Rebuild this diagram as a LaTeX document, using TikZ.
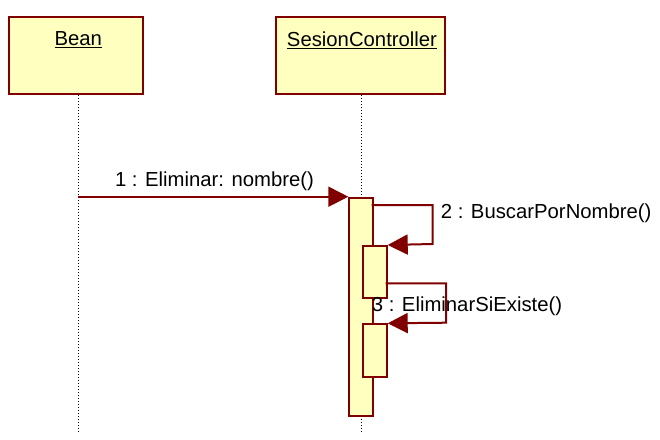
\documentclass[tikz,border=0pt]{standalone}
\usepackage{fontspec}
\setmainfont{Liberation Sans}
\usetikzlibrary{arrows.meta}
\definecolor{umlred}{HTML}{800000}
\definecolor{umlfill}{HTML}{FFFFC0}
\tikzset{
  objbox/.style={draw=umlred, fill=umlfill, line width=2pt, inner sep=0pt},
  actbox/.style={draw=umlred, fill=umlfill, line width=2pt, inner sep=0pt},
  lifeline/.style={draw=black, line width=1pt, dotted},
  msg/.style={draw=umlred, line width=2pt, -{Triangle[length=20pt,width=20pt]}},
  lbl/.style={inner sep=0pt, font=\fontsize{20.3}{24}\selectfont}
}
\begin{document}
\begin{tikzpicture}[x=1pt,y=-1pt]
\useasboundingbox (0,0) rectangle (660,439);
% object boxes
\node[objbox, minimum width=134pt, minimum height=77pt] (bean) at (76.3,55.3) {};
\node[objbox, minimum width=169pt, minimum height=77pt] (sc) at (360.3,55.3) {};
\node[lbl] (beanlbl) at (78.3,40) {\underline{Bean}};
\node[lbl] (sclbl) at (362,40) {\underline{SesionController}};
% lifelines
\coordinate (beanend) at (78.3,432);
\coordinate (scend) at (361.5,432);
\draw[lifeline] (bean.south -| beanend) -- (beanend);
\draw[lifeline] (sc.south -| scend) -- (scend);
% activations
\node[actbox, anchor=north west, minimum width=23.4pt, minimum height=218.3pt] (act0) at (348.3,196.7) {};
\node[actbox, anchor=north west, minimum width=24pt, minimum height=51.7pt] (act1) at (361.7,245) {};
\node[actbox, anchor=north west, minimum width=24pt, minimum height=52.4pt] (act2) at (361.7,323.3) {};
% message 1
\coordinate (m1start) at (78.3,196.7);
\draw[msg] (m1start) -- (act0.north west);
\node[lbl] (l1) at (214.5,181.7) {1 : Eliminar: nombre()};
% message 2 (self call)
\coordinate (m2a) at (371.7,205);
\coordinate (m2b) at (432.7,205);
\coordinate (m2c) at (432.7,244);
\draw[msg] (m2a) -- (m2b) -- (m2c) -- (act1.north east);
\node[lbl, anchor=west] (l2) at (440.7,213.3) {2 : BuscarPorNombre()};
% message 3 (self call)
\coordinate (m3a) at (385.7,283.3);
\coordinate (m3b) at (446,283.3);
\coordinate (m3c) at (446,322.7);
\draw[msg] (m3a) -- (m3b) -- (m3c) -- (act2.north east);
\node[lbl, anchor=west] (l3) at (371.7,306.7) {3 : EliminarSiExiste()};
\end{tikzpicture}
\end{document}
